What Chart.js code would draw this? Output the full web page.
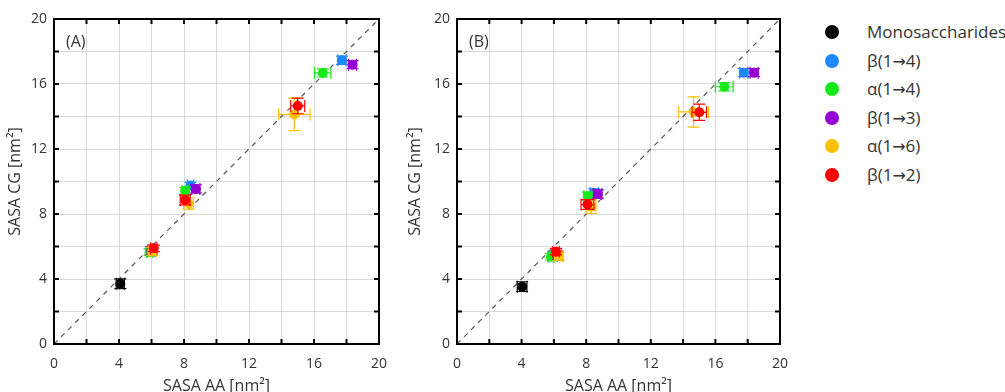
<!DOCTYPE html>
<html>
<head>
<meta charset="utf-8">
<script src="https://cdn.jsdelivr.net/npm/chart.js@4.4.1/dist/chart.umd.min.js"></script>
<style>
  body { margin: 0; background: #fff; width: 1005px; height: 392px; position: relative; overflow: hidden; font-family: "Open Sans", sans-serif; }
  canvas { position: absolute; top: 0; }
  #legend { position: absolute; left: 0; top: 0; }
  .row { position: absolute; height: 20px; line-height: 20px; font-size: 17px; color: #333; white-space: nowrap; font-family: "Open Sans", "DejaVu Sans", sans-serif; }
  .row .arr { font-family: "DejaVu Sans", sans-serif; font-size: 16px; }
  .dot { position: absolute; width: 14px; height: 14px; border-radius: 7px; }
</style>
</head>
<body>
<canvas id="chartA" width="400" height="396" style="left:0"></canvas>
<canvas id="chartB" width="400" height="396" style="left:400px"></canvas>
<div id="legend"></div>
<script>
// series, in legend order
var seriesNames = ['Monosaccharides', 'β(1→4)', 'α(1→4)', 'β(1→3)', 'α(1→6)', 'β(1→2)'];
var seriesColors = ['#000000', '#1e88ff', '#17e817', '#9400d3', '#ffc000', '#ff0000'];
var panelLabels = ['(A)', '(B)'];

// panel A: SASA AA (x) vs SASA CG (y), one inner array per series
var aX    = [[4.08], [5.95, 8.4, 17.72], [5.88, 8.07, 16.54], [6.0, 8.73, 18.37], [6.05, 8.28, 14.79], [6.14, 8.07, 15.0]];
var aY    = [[3.71], [5.7, 9.75, 17.46], [5.66, 9.43, 16.68], [5.75, 9.54, 17.19], [5.7, 8.65, 14.13], [5.89, 8.86, 14.65]];
var aXErr = [[0.25], [0.2, 0.2, 0.25], [0.2, 0.2, 0.5], [0.25, 0.25, 0.25], [0.25, 0.3, 0.97], [0.2, 0.3, 0.43]];
var aYErr = [[0.3], [0.2, 0.2, 0.25], [0.2, 0.2, 0.25], [0.25, 0.25, 0.25], [0.25, 0.35, 1.0], [0.2, 0.3, 0.48]];

// panel B
var bX    = [[4.03], [5.95, 8.5, 17.76], [5.82, 8.1, 16.55], [6.25, 8.72, 18.4], [6.3, 8.3, 14.65], [6.13, 8.08, 15.0]];
var bY    = [[3.53], [5.4, 9.3, 16.7], [5.37, 9.1, 15.83], [5.45, 9.23, 16.7], [5.4, 8.45, 14.28], [5.68, 8.58, 14.26]];
var bXErr = [[0.3], [0.25, 0.25, 0.25], [0.2, 0.25, 0.55], [0.25, 0.25, 0.25], [0.25, 0.3, 0.92], [0.2, 0.4, 0.45]];
var bYErr = [[0.3], [0.25, 0.25, 0.25], [0.2, 0.25, 0.25], [0.25, 0.25, 0.25], [0.25, 0.42, 0.93], [0.2, 0.3, 0.5]];

// y = x reference line
var diagX = [0, 20];
var diagY = [0, 20];

var axisMin = 0, axisMax = 20, tickStep = 2;

Chart.defaults.font.family = '"Open Sans", sans-serif';
Chart.defaults.color = '#333';

// error bars, drawn just before each dataset's points
var errorBars = {
  id: 'errorBars',
  beforeDatasetDraw: function(chart, args) {
    var ds = chart.data.datasets[args.index];
    if (!ds.xErr) return;
    var ctx = chart.ctx, xs = chart.scales.x, ys = chart.scales.y;
    var cap = 6;
    ctx.save();
    ctx.strokeStyle = ds.backgroundColor;
    ctx.lineWidth = 1.2;
    ds.data.forEach(function(p, i) {
      var px = xs.getPixelForValue(p.x), py = ys.getPixelForValue(p.y);
      var x0 = xs.getPixelForValue(p.x - ds.xErr[i]), x1 = xs.getPixelForValue(p.x + ds.xErr[i]);
      var y0 = ys.getPixelForValue(p.y - ds.yErr[i]), y1 = ys.getPixelForValue(p.y + ds.yErr[i]);
      ctx.beginPath();
      ctx.moveTo(x0, py); ctx.lineTo(x1, py);
      ctx.moveTo(x0, py - cap); ctx.lineTo(x0, py + cap);
      ctx.moveTo(x1, py - cap); ctx.lineTo(x1, py + cap);
      ctx.moveTo(px, y0); ctx.lineTo(px, y1);
      ctx.moveTo(px - cap, y0); ctx.lineTo(px + cap, y0);
      ctx.moveTo(px - cap, y1); ctx.lineTo(px + cap, y1);
      ctx.stroke();
    });
    ctx.restore();
  }
};

// black frame with inward ticks on all four sides + panel label
var frame = {
  id: 'frame',
  afterDraw: function(chart, args, opts) {
    var ctx = chart.ctx, a = chart.chartArea;
    var xs = chart.scales.x, ys = chart.scales.y;
    var len = 5;
    ctx.save();
    ctx.strokeStyle = '#000';
    ctx.lineWidth = 2;
    ctx.strokeRect(a.left, a.top, a.right - a.left, a.bottom - a.top);
    ctx.beginPath();
    xs.ticks.forEach(function(t) {
      var p = xs.getPixelForValue(t.value);
      ctx.moveTo(p, a.bottom); ctx.lineTo(p, a.bottom - len);
      ctx.moveTo(p, a.top); ctx.lineTo(p, a.top + len);
    });
    ys.ticks.forEach(function(t) {
      var p = ys.getPixelForValue(t.value);
      ctx.moveTo(a.left, p); ctx.lineTo(a.left + len, p);
      ctx.moveTo(a.right, p); ctx.lineTo(a.right - len, p);
    });
    ctx.stroke();
    ctx.fillStyle = '#333';
    ctx.font = '16px "Open Sans", sans-serif';
    ctx.textBaseline = 'middle';
    ctx.fillText(opts.label, a.left + 12, a.top + 23);
    ctx.restore();
  }
};

function makeDatasets(xs, ys, xe, ye) {
  var sets = seriesNames.map(function(name, s) {
    return {
      label: name,
      data: xs[s].map(function(v, i) { return { x: v, y: ys[s][i] }; }),
      xErr: xe[s],
      yErr: ye[s],
      backgroundColor: seriesColors[s],
      borderColor: seriesColors[s],
      pointRadius: 5,
      pointHoverRadius: 5,
      borderWidth: 0,
      order: seriesNames.length - s
    };
  });
  sets.push({
    type: 'line',
    label: 'y = x',
    data: diagX.map(function(v, i) { return { x: v, y: diagY[i] }; }),
    borderColor: '#555',
    borderWidth: 1.2,
    borderDash: [5, 5],
    pointRadius: 0,
    fill: false,
    order: 99
  });
  return sets;
}

function makeChart(id, label, xs, ys, xe, ye, yAxisWidth, padRight) {
  return new Chart(document.getElementById(id), {
    type: 'scatter',
    data: { datasets: makeDatasets(xs, ys, xe, ye) },
    plugins: [errorBars, frame],
    options: {
      responsive: false,
      animation: false,
      events: [],
      layout: { padding: { top: 19, right: padRight, left: 0, bottom: 0 } },
      plugins: {
        legend: { display: false },
        tooltip: { enabled: false },
        frame: { label: label }
      },
      scales: {
        x: {
          type: 'linear', min: axisMin, max: axisMax,
          afterFit: function(s) { s.height = 52; },
          grid: { color: '#d9d9d9', lineWidth: 1, drawTicks: false },
          border: { display: false },
          ticks: {
            stepSize: tickStep, autoSkip: false, maxRotation: 0, padding: 12,
            font: { size: 14 },
            callback: function(v) { return v % 4 === 0 ? v : ''; }
          },
          title: { display: true, text: 'SASA AA [nm²]', font: { size: 16 }, padding: { top: 0, bottom: 0 } }
        },
        y: {
          type: 'linear', min: axisMin, max: axisMax,
          afterFit: function(s) { s.width = yAxisWidth; },
          grid: { color: '#d9d9d9', lineWidth: 1, drawTicks: false },
          border: { display: false },
          ticks: {
            stepSize: tickStep, autoSkip: false, padding: 7,
            font: { size: 14 },
            callback: function(v) { return v % 4 === 0 ? v : ''; }
          },
          title: { display: true, text: 'SASA CG [nm²]', font: { size: 16 }, padding: { top: 6, bottom: 0 } }
        }
      }
    }
  });
}

makeChart('chartA', panelLabels[0], aX, aY, aXErr, aYErr, 54, 21);
makeChart('chartB', panelLabels[1], bX, bY, bXErr, bYErr, 57, 18);

// legend on the right; the arrow gets a font that has a full-size glyph
var legend = document.getElementById('legend');
seriesNames.forEach(function(name, s) {
  var cy = 32 + s * 28.5;
  var dot = document.createElement('div');
  dot.className = 'dot';
  dot.style.left = '825px';
  dot.style.top = (cy - 7) + 'px';
  dot.style.background = seriesColors[s];
  legend.appendChild(dot);
  var row = document.createElement('div');
  row.className = 'row';
  row.style.left = '867px';
  row.style.top = (cy - 10) + 'px';
  name.split('→').forEach(function(part, k) {
    if (k > 0) {
      var arr = document.createElement('span');
      arr.className = 'arr';
      arr.textContent = '→';
      row.appendChild(arr);
    }
    row.appendChild(document.createTextNode(part));
  });
  legend.appendChild(row);
});
</script>
</body>
</html>
